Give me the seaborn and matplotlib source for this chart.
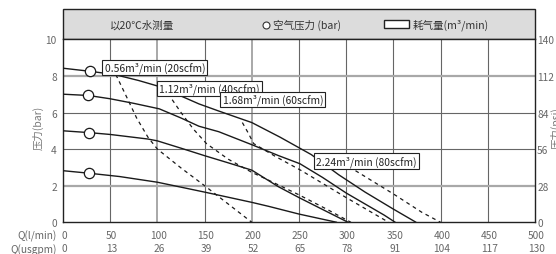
import numpy as np
import pandas as pd
import matplotlib
matplotlib.use("Agg")
import matplotlib.pyplot as plt
import seaborn as sns
from matplotlib.patches import Rectangle
from matplotlib.lines import Line2D
from matplotlib.transforms import blended_transform_factory

sns.set_theme(style="white")
plt.rcParams['font.family'] = ['Noto Sans CJK SC', 'DejaVu Sans']

W, H = 556, 255

# flow ticks (l/min) and the matching usgpm labels
q_ticks = [0, 50, 100, 150, 200, 250, 300, 350, 400, 450, 500]
gpm_labels = ["0", "13", "26", "39", "52", "65", "78", "91", "104", "117", "130"]
bar_ticks = [0, 2, 4, 6, 8, 10]
psi_ticks = [0, 28, 56, 84, 112, 140]

# solid curves: outlet pressure (bar) vs flow (l/min) for each air pressure
q_a = [0, 29, 55, 80, 100, 125, 144, 165, 200, 230, 263, 292, 320, 350, 374]
p_a = [8.42, 8.25, 8.07, 7.75, 7.45, 6.9, 6.47, 6.08, 5.45, 4.65, 3.7, 2.6, 1.65, 0.72, 0]
q_b = [0, 27, 50, 75, 102, 125, 144, 165, 202, 228, 251, 275, 300, 325, 340, 352]
p_b = [7.0, 6.93, 6.75, 6.5, 6.2, 5.7, 5.25, 4.95, 4.2, 3.65, 3.2, 2.45, 1.6, 0.85, 0.4, 0]
q_c = [0, 28, 50, 90, 100, 125, 150, 175, 200, 228, 250, 275, 302]
p_c = [5.0, 4.9, 4.8, 4.55, 4.45, 4.05, 3.64, 3.25, 2.85, 1.95, 1.35, 0.7, 0]
q_d = [0, 28, 60, 100, 150, 200, 218, 250, 290]
p_d = [2.82, 2.68, 2.5, 2.19, 1.65, 1.09, 0.87, 0.45, 0]

# air pressure markers
circle_q = [29, 27, 28, 28]
circle_p = [8.25, 6.93, 4.9, 2.68]

# dashed curves: constant air consumption
dq_1 = [56, 66, 78, 90, 100, 125, 150, 175, 200]
dp_1 = [8.07, 7.0, 5.7, 4.65, 4.0, 2.97, 2.0, 1.0, 0]
dq_2 = [106, 113, 125, 138, 152, 175, 200, 215, 250, 280, 305]
dp_2 = [7.35, 6.9, 6.0, 5.1, 4.3, 3.45, 2.73, 2.37, 1.5, 0.7, 0]
dq_3 = [190, 196, 202, 225, 252, 300, 339, 345]
dp_3 = [5.45, 4.9, 4.3, 3.6, 2.84, 1.35, 0.18, 0]
dq_4 = [297, 307, 350, 380, 400]
dp_4 = [3.3, 2.91, 1.55, 0.55, 0]

air_labels = ["0.56m³/min (20scfm)", "1.12m³/min (40scfm)",
              "1.68m³/min (60scfm)", "2.24m³/min (80scfm)"]
label_q = [44, 102, 169, 268]
label_p = [8.46, 7.32, 6.7, 3.35]

fig = plt.figure(figsize=(W / 100, H / 100), dpi=100)
ax = fig.add_axes([63 / W, 1 - 223.3 / H, 472 / W, 183 / H])

# grid
for x in q_ticks[1:-1]:
    light = x in (100, 200)
    ax.axvline(x, color='#a8a8a8' if light else '#666666', lw=1.4 if light else 0.8, zorder=1)
for y in bar_ticks[1:-1]:
    light = y in (2, 8)
    ax.axhline(y, color='#a8a8a8' if light else '#666666', lw=1.6 if light else 0.8, zorder=1)

line_col = '#1a1a1a'
for q, p in [(q_a, p_a), (q_b, p_b), (q_c, p_c), (q_d, p_d)]:
    sns.lineplot(x=q, y=p, ax=ax, color=line_col, lw=1.0, sort=False, estimator=None, zorder=3)
for q, p in [(dq_1, dp_1), (dq_2, dp_2), (dq_3, dp_3), (dq_4, dp_4)]:
    sns.lineplot(x=q, y=p, ax=ax, color=line_col, lw=0.9, sort=False, estimator=None,
                 linestyle=(0, (3, 3)), zorder=3)

sns.scatterplot(x=circle_q, y=circle_p, ax=ax, s=55, facecolor='white',
                edgecolor=line_col, linewidth=0.9, zorder=5)

for txt, q, p in zip(air_labels, label_q, label_p):
    ax.text(q, p, txt, ha='left', va='center', fontsize=7.4, color='#222222', zorder=6,
            bbox=dict(boxstyle='square,pad=0.2', fc='white', ec='#222222', lw=0.8))

ax.set_xlim(0, 500)
ax.set_ylim(0, 10)
ax.set_yticks(bar_ticks)
ax.set_yticklabels([str(v) for v in bar_ticks], fontsize=7.3, color='#666666')
ax.set_xticks(q_ticks)
ax.set_xticklabels([])
ax.tick_params(axis='both', length=0)
ax.tick_params(axis='y', pad=4.5)
for s in ax.spines.values():
    s.set_color('#222222')
    s.set_linewidth(1.0)

ax2 = ax.twinx()
ax2.set_ylim(0, 140)
ax2.set_yticks(psi_ticks)
ax2.set_yticklabels([str(v) for v in psi_ticks], fontsize=7.3, color='#666666')
ax2.tick_params(axis='y', length=0, pad=1.5)
ax2.grid(False)
for s in ax2.spines.values():
    s.set_visible(False)

# two rows of flow labels
tr = blended_transform_factory(ax.transData, fig.transFigure)
for q, g in zip(q_ticks, gpm_labels):
    ax.text(q + 1.5, 1 - 236.5 / H, str(q), transform=tr, ha='center', va='center',
            fontsize=7.3, color='#666666', clip_on=False)
    ax.text(q + 1.5, 1 - 249.5 / H, g, transform=tr, ha='center', va='center',
            fontsize=7.3, color='#666666', clip_on=False)
fig.text(57 / W, 1 - 236.5 / H, "Q(l/min)", ha='right', va='center', fontsize=7.3, color='#666666')
fig.text(57 / W, 1 - 249.5 / H, "Q(usgpm)", ha='right', va='center', fontsize=7.3, color='#666666')

fig.text(38 / W, 1 - 128 / H, "压力(bar)", rotation=90, ha='center', va='center',
         fontsize=7.5, color='#777777')
fig.text(556 / W, 1 - 128 / H, "压力(psi)", rotation=90, ha='center', va='center',
         fontsize=7.5, color='#777777')

# header band with legend
fig.add_artist(Rectangle((63 / W, 1 - 40.3 / H), 472 / W, 30.3 / H, transform=fig.transFigure,
                         facecolor='#dcdcdc', edgecolor='#222222', lw=1.0, zorder=0))
hy = 1 - 25.5 / H
fig.text(110 / W, hy, "以20℃水测量", ha='left', va='center', fontsize=7.6, color='#333333')
fig.add_artist(Line2D([265.5 / W], [hy], transform=fig.transFigure, marker='o', markersize=5,
                      markerfacecolor='white', markeredgecolor='#333333', markeredgewidth=0.8,
                      linestyle='none'))
fig.text(273 / W, hy, "空气压力 (bar)", ha='left', va='center', fontsize=7.6, color='#333333')
fig.add_artist(Rectangle((384 / W, 1 - 29 / H), 25 / W, 8 / H, transform=fig.transFigure,
                         facecolor='white', edgecolor='#222222', lw=1.0))
fig.text(413 / W, hy, "耗气量(m³/min)", ha='left', va='center', fontsize=7.6, color='#333333')

fig.savefig("out.png", dpi=100)
